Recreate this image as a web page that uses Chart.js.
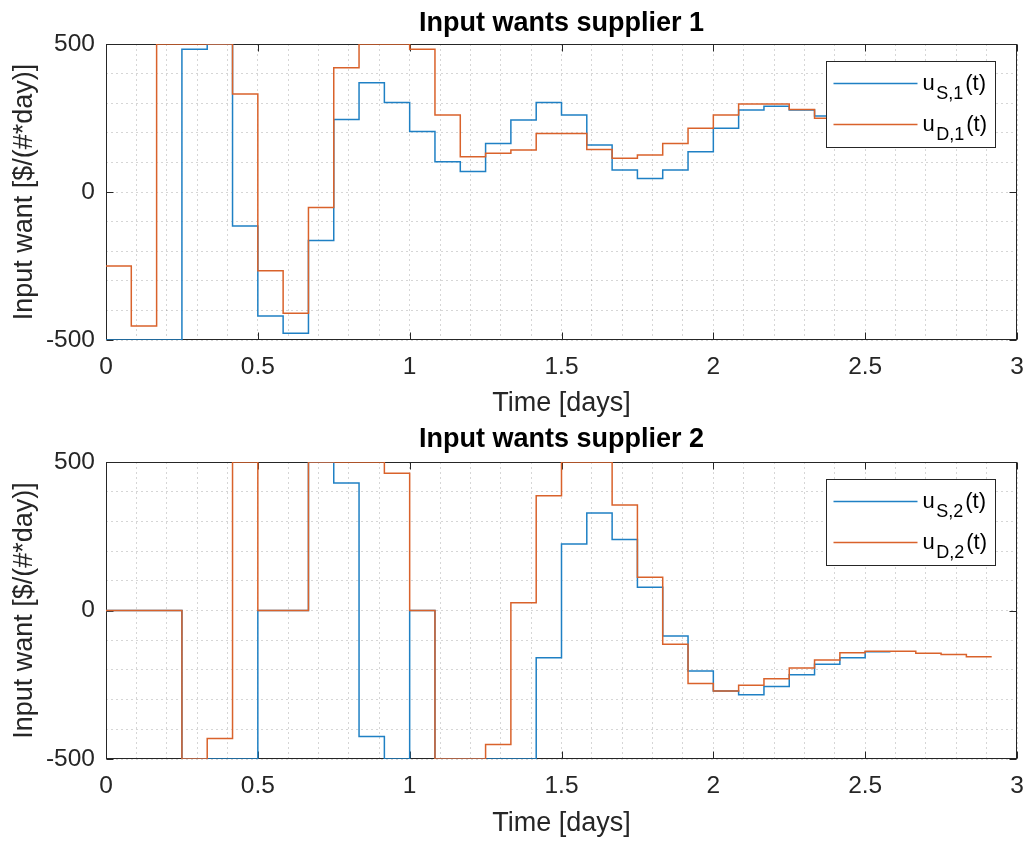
<!DOCTYPE html>
<html>
<head>
<meta charset="utf-8">
<script src="https://cdn.jsdelivr.net/npm/chart.js@4.4.1/dist/chart.umd.min.js"></script>
<style>
  html, body { margin: 0; padding: 0; background: #fff; }
  #wrap { position: relative; width: 1029px; height: 841px; }
  canvas { position: absolute; left: 0; }
</style>
</head>
<body>
<div id="wrap">
  <canvas id="plot1" width="1029" height="420" style="top:0"></canvas>
  <canvas id="plot2" width="1029" height="421" style="top:420px"></canvas>
</div>
<script>
// sample times [days], one step every 2 hours
const time = [0, 0.0833, 0.1667, 0.25, 0.3333, 0.4167, 0.5, 0.5833, 0.6667, 0.75, 0.8333, 0.9167,
  1, 1.0833, 1.1667, 1.25, 1.3333, 1.4167, 1.5, 1.5833, 1.6667, 1.75, 1.8333, 1.9167,
  2, 2.0833, 2.1667, 2.25, 2.3333, 2.4167, 2.5, 2.5833, 2.6667, 2.75, 2.8333, 2.9167]

// supplier 1
const uS1 = [-500, -500, -500, 482, 500, -115, -419, -477, -164, 245, 369, 302,
  204, 102, 69, 164, 243, 302, 260, 159, 74, 46, 74, 136,
  215, 277, 290, 277, 257, 252, 250, 250]
const uD1 = [-250, -453, 500, 500, 500, 331, -266, -410, -52, 420, 500, 500,
  482, 260, 119, 131, 142, 198, 198, 144, 114, 125, 164, 215,
  260, 297, 297, 279, 249, 245, 240, 238, 236, 236, 235, 235]

// supplier 2
const uS2 = [0, 0, 0, -500, -500, -500, 0, 0, 500, 429, -424, -500,
  0, -500, -500, -500, -500, -159, 224, 328, 239, 78, -86, -204,
  -271, -284, -256, -216, -181, -159, -139, -139]
const uD2 = [0, 0, 0, -500, -431, 500, 0, 0, 500, 500, 500, 462,
  0, -500, -500, -451, 26, 386, 500, 500, 355, 112, -114, -246,
  -271, -252, -230, -194, -167, -142, -137, -137, -144, -148, -156, -156]

const xMajor = [0, 0.5, 1, 1.5, 2, 2.5, 3]
const xTickLabels = ['0', '0.5', '1', '1.5', '2', '2.5', '3']
const yMajor = [-500, 0, 500]
const yTickLabels = ['-500', '0', '500']

const BLUE = '#1f80c4'
const ORANGE = '#d9622b'
const AXIS = '#262626'
const FONT = "'Liberation Sans', Arial, Helvetica, sans-serif"

const majorIndex = (list, v) => list.findIndex(m => Math.abs(m - v) < 1e-6)

// matlab style box with inward ticks
const axesBox = {
  id: 'axesBox',
  beforeDatasetsDraw (chart) {
    const { ctx, chartArea: a, scales } = chart
    const L = Math.round(a.left) + 0.5
    const R = Math.round(a.right) - 0.5
    const T = Math.round(a.top) + 0.5
    const B = Math.round(a.bottom) - 0.5
    ctx.save()
    ctx.strokeStyle = AXIS
    ctx.lineWidth = 1
    ctx.strokeRect(L, T, R - L, B - T)
    ctx.beginPath()
    xMajor.forEach(v => {
      const px = Math.round(scales.x.getPixelForValue(v)) + 0.5
      ctx.moveTo(px, B); ctx.lineTo(px, B - 7)
      ctx.moveTo(px, T); ctx.lineTo(px, T + 7)
    })
    yMajor.forEach(v => {
      const py = Math.round(scales.y.getPixelForValue(v)) + 0.5
      ctx.moveTo(L, py); ctx.lineTo(L + 7, py)
      ctx.moveTo(R, py); ctx.lineTo(R - 7, py)
    })
    ctx.stroke()
    ctx.restore()
  }
}

// legend box drawn inside the axes, with subscripted labels
const boxLegend = {
  id: 'boxLegend',
  afterDatasetsDraw (chart, args, opts) {
    const { ctx, chartArea: a } = chart
    const bx = Math.round(a.right - 191) + 0.5
    const by = Math.round(a.top + 17) + 0.5
    const bw = 169
    const bh = 86
    ctx.save()
    ctx.fillStyle = '#fff'
    ctx.fillRect(bx, by, bw, bh)
    ctx.strokeStyle = AXIS
    ctx.lineWidth = 1
    ctx.strokeRect(bx, by, bw, bh)
    chart.data.datasets.forEach((ds, i) => {
      const rowY = by + (i === 0 ? 22 : 63)
      ctx.strokeStyle = ds.borderColor
      ctx.lineWidth = 1.5
      ctx.beginPath()
      ctx.moveTo(bx + 7, rowY)
      ctx.lineTo(bx + 91, rowY)
      ctx.stroke()
      const [main, sub, tail] = opts.labels[i]
      const base = rowY + 6
      let tx = bx + 96
      ctx.fillStyle = '#000'
      ctx.textBaseline = 'alphabetic'
      ctx.textAlign = 'left'
      ctx.font = `22px ${FONT}`
      ctx.fillText(main, tx, base)
      tx += ctx.measureText(main).width + 1.5
      ctx.font = `18px ${FONT}`
      ctx.fillText(sub, tx, base + 9)
      tx += ctx.measureText(sub).width + 2
      ctx.font = `22px ${FONT}`
      ctx.fillText(tail, tx, base)
    })
    ctx.restore()
  }
}

function stairsChart (canvasId, opts) {
  const toPoints = ys => ys.map((y, i) => ({ x: time[i], y }))
  return new Chart(document.getElementById(canvasId), {
    type: 'line',
    data: {
      datasets: [
        { label: 'blue', data: toPoints(opts.blue), borderColor: BLUE, order: 1 },
        { label: 'orange', data: toPoints(opts.orange), borderColor: ORANGE, order: 0 }
      ]
    },
    options: {
      responsive: false,
      animation: false,
      layout: { padding: { right: 12 } },
      elements: {
        point: { radius: 0 },
        line: { borderWidth: 1.5, stepped: true, fill: false }
      },
      plugins: {
        legend: { display: false },
        tooltip: { enabled: false },
        title: {
          display: true,
          fullSize: false,
          text: opts.title,
          color: '#000',
          font: { family: FONT, size: 27, weight: 'bold', lineHeight: 1.2 },
          padding: { top: opts.titleTop, bottom: opts.titleBottom }
        },
        boxLegend: { labels: opts.labels }
      },
      scales: {
        x: {
          type: 'linear',
          min: 0,
          max: 3,
          afterFit: s => {
            s.height = opts.xAxisHeight
            s.paddingLeft = 0
            s.paddingRight = 0
          },
          ticks: {
            stepSize: 0.1,
            maxTicksLimit: 1000,
            autoSkip: false,
            maxRotation: 0,
            padding: opts.xTickPad,
            color: AXIS,
            font: { family: FONT, size: 24.5 },
            callback: v => {
              const k = majorIndex(xMajor, v)
              return k >= 0 ? xTickLabels[k] : ''
            }
          },
          grid: { color: 'rgba(0,0,0,0.16)', lineWidth: 1, drawTicks: false, borderDash: [2, 3] },
          border: { display: false, dash: [2, 3] },
          title: {
            display: true,
            text: 'Time [days]',
            color: AXIS,
            font: { family: FONT, size: 27, lineHeight: 1.2 },
            padding: { top: 0, bottom: opts.xTitlePad }
          }
        },
        y: {
          min: -500,
          max: 500,
          afterFit: s => {
            s.width = 106
            s.paddingTop = 0
            s.paddingBottom = 0
          },
          ticks: {
            stepSize: 100,
            maxTicksLimit: 1000,
            autoSkip: false,
            padding: 11,
            color: AXIS,
            font: { family: FONT, size: 24.5 },
            callback: v => {
              const k = majorIndex(yMajor, v)
              return k >= 0 ? yTickLabels[k] : ''
            }
          },
          grid: { color: 'rgba(0,0,0,0.16)', lineWidth: 1, drawTicks: false, borderDash: [2, 3] },
          border: { display: false, dash: [2, 3] },
          title: {
            display: true,
            text: 'Input want [$/(#*day)]',
            color: AXIS,
            font: { family: FONT, size: 27, lineHeight: 1.2 },
            padding: { top: 8, bottom: 0 }
          }
        }
      }
    },
    plugins: [axesBox, boxLegend]
  })
}

stairsChart('plot1', {
  title: 'Input wants supplier 1',
  blue: uS1,
  orange: uD1,
  labels: [['u', 'S,1', '(t)'], ['u', 'D,1', '(t)']],
  titleTop: 7.8,
  titleBottom: 3.8,
  xAxisHeight: 80,
  xTickPad: 13,
  xTitlePad: 0
})

stairsChart('plot2', {
  title: 'Input wants supplier 2',
  blue: uS2,
  orange: uD2,
  labels: [['u', 'S,2', '(t)'], ['u', 'D,2', '(t)']],
  titleTop: 3.8,
  titleBottom: 5.8,
  xAxisHeight: 82,
  xTickPad: 13,
  xTitlePad: 1
})
</script>
</body>
</html>
